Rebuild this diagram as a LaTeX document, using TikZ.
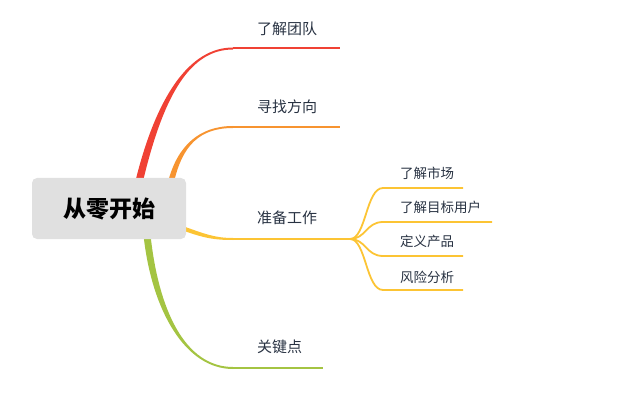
\documentclass[tikz,border=0pt]{standalone}
\usepackage{fontspec}
\newfontfamily\cjk{Noto Sans CJK SC}
\usetikzlibrary{calc}
\definecolor{cred}{RGB}{240,65,52}
\definecolor{corange}{RGB}{247,148,48}
\definecolor{cyellow}{RGB}{252,196,52}
\definecolor{cgreen}{RGB}{164,196,66}
\definecolor{rootgray}{RGB}{224,224,224}
\definecolor{txt}{RGB}{40,50,66}
\begin{document}
\begin{tikzpicture}[x=1pt,y=-1pt,
  lab/.style={font=\cjk\fontsize{15}{18}\selectfont, text=txt, inner sep=0pt, anchor=base west},
  sublab/.style={font=\cjk\fontsize{13.5}{16}\selectfont, text=txt, inner sep=0pt, anchor=base west},
  stem/.style={line width=2pt},
  substem/.style={line width=1.8pt, cyellow}]
\useasboundingbox (0,0) rectangle (623,403);
% coordinates
\coordinate (s1) at (139,182);
\coordinate (s2) at (171,182);
\coordinate (s3) at (182,228);
\coordinate (s4) at (147,235);
\coordinate (e1) at (233,48.5);
\coordinate (e2) at (233,127);
\coordinate (e3) at (233,239);
\coordinate (e4) at (233,368);
\coordinate (f1) at (340,48.5);
\coordinate (f2) at (340,127);
\coordinate (f3) at (350,239);
\coordinate (f4) at (323,368);
% red
\fill[cred] ($(s1)+(-3.8,0)$) .. controls (156.5,95) and (190,47.5) .. ($(e1)+(0,-1)$)
  -- ($(e1)+(0,1)$) .. controls (190,49.5) and (163.5,95) .. ($(s1)+(3.8,0)$) -- cycle;
\draw[stem,cred] (e1) -- (f1);
% orange
\fill[corange] ($(s2)+(-3,0)$) .. controls (177.5,145) and (200,126) .. ($(e2)+(0,-1)$)
  -- ($(e2)+(0,1)$) .. controls (200,128) and (182.5,145) .. ($(s2)+(3,0)$) -- cycle;
\draw[stem,corange] (e2) -- (f2);
% yellow
\fill[cyellow] ($(s3)+(0,-2.2)$) .. controls (205,234) and (215,238) .. ($(e3)+(0,-1)$)
  -- ($(e3)+(0,1)$) .. controls (215,240) and (205,238.5) .. ($(s3)+(0,2.2)$) -- cycle;
\draw[stem,cyellow] (e3) -- (f3);
% green
\fill[cgreen] ($(s4)+(-3.5,0)$) .. controls (151.5,310) and (185,369) .. ($(e4)+(0,1)$)
  -- ($(e4)+(0,-1)$) .. controls (185,367) and (158.5,310) .. ($(s4)+(3.5,0)$) -- cycle;
\draw[stem,cgreen] (e4) -- (f4);
% root
\node[fill=rootgray, rounded corners=5pt, minimum width=154pt, minimum height=61pt,
  inner sep=0pt, font=\cjk\bfseries\fontsize{23}{28}\selectfont, text=black] (root) at (109,208.5) {从零开始};
% main labels
\node[lab] (l1) at (257,34.5) {了解团队};
\node[lab] (l2) at (257,112.5) {寻找方向};
\node[lab] (l3) at (257,223.5) {准备工作};
\node[lab] (l4) at (257,352.5) {关键点};
% sub branches
\coordinate (g1) at (383,188);
\coordinate (g2) at (383,222);
\coordinate (g3) at (383,256);
\coordinate (g4) at (383,290);
\coordinate (h1) at (463,188);
\coordinate (h2) at (492,222);
\coordinate (h3) at (463,256);
\coordinate (h4) at (463,290);
\foreach \i in {1,2,3,4}{
  \draw[substem] (f3) .. controls (366,239) and (366,{188+34*(\i-1)}) .. (g\i) -- (h\i);
}
\node[sublab] (m1) at (400,179) {了解市场};
\node[sublab] (m2) at (400,213) {了解目标用户};
\node[sublab] (m3) at (400,247) {定义产品};
\node[sublab] (m4) at (400,282) {风险分析};
\end{tikzpicture}
\end{document}
